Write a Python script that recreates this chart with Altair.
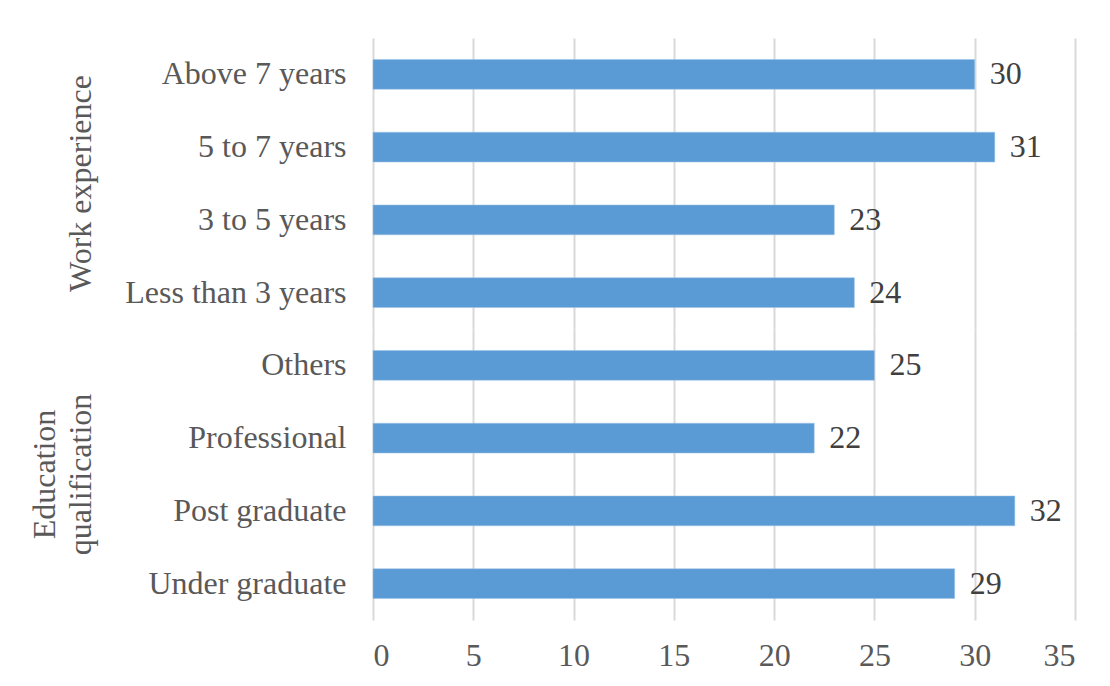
import altair as alt
import pandas as pd

groups = ["Work experience", "Work experience", "Work experience", "Work experience",
          "Education qualification", "Education qualification", "Education qualification", "Education qualification"]
categories = ["Above 7 years", "5 to 7 years", "3 to 5 years", "Less than 3 years",
              "Others", "Professional", "Post graduate", "Under graduate"]
values = [30, 31, 23, 24, 25, 22, 32, 29]
group_order = ["Work experience", "Education qualification"]
x_ticks = [0, 5, 10, 15, 20, 25, 30, 35]

df = pd.DataFrame({"group": groups, "category": categories, "value": values})

FONT = "Liberation Serif"
LABEL_COLOR = "#595959"
FS = 32

y_enc = alt.Y("category:N", sort=categories, title=None,
              scale=alt.Scale(paddingInner=0.59, paddingOuter=0.295),
              axis=alt.Axis(labelFont=FONT, labelFontSize=FS, labelColor=LABEL_COLOR,
                            labelPadding=27, ticks=False, domain=False, grid=False,
                            labelLimit=400))
x_enc = alt.X("value:Q", title=None,
              scale=alt.Scale(domain=[0, 35], nice=False),
              axis=alt.Axis(values=x_ticks, labelFont=FONT, labelFontSize=FS,
                            labelColor=LABEL_COLOR, labelPadding=20, ticks=False,
                            domain=False, grid=True, gridColor="#D9D9D9", gridWidth=2))

bars = alt.Chart().mark_bar(color="#5B9BD5", stroke="#9DC3E6", strokeWidth=0.5).encode(x=x_enc, y=y_enc)
labels = alt.Chart().mark_text(align="left", baseline="middle", dx=15, font=FONT,
                               fontSize=FS, color="#404040").encode(
    x="value:Q", y=alt.Y("category:N", sort=categories), text="value:Q")

chart = alt.layer(bars, labels, data=df).properties(
    width=702, height=291, view=alt.ViewBackground(strokeWidth=0, stroke="transparent")
).facet(
    row=alt.Row("group:N", sort=group_order, title=None,
                header=alt.Header(labelFont=FONT, labelFontSize=FS, labelColor=LABEL_COLOR,
                                  labelAngle=-90, labelPadding=11, labelLineHeight=36,
                                  labelExpr="split(datum.value, ' ')[0] == 'Education' ? ['Education', 'qualification'] : datum.value"))
).resolve_scale(y="independent").properties(
    spacing=0,
    padding={"left": 29, "top": 38, "right": 5, "bottom": 5},
).configure_view(strokeWidth=0, stroke="transparent").configure(
    background="white", style={"cell": {"stroke": "transparent", "strokeWidth": 0}})

chart.save("out.html", embed_options={"renderer": "svg", "actions": False})
